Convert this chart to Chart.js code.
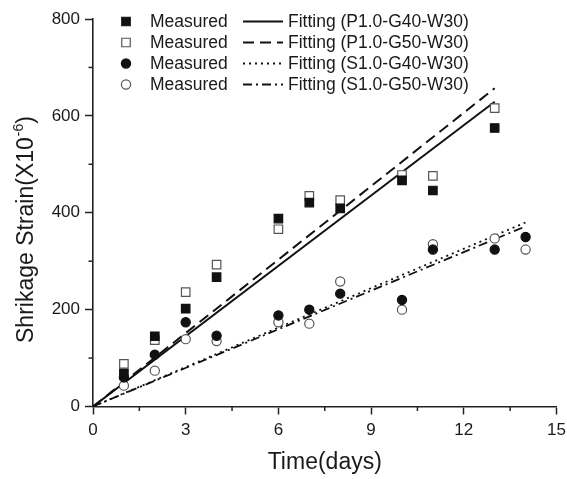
<!DOCTYPE html>
<html>
<head>
<meta charset="utf-8">
<script src="https://cdn.jsdelivr.net/npm/chart.js@4/dist/chart.umd.min.js"></script>
<style>
  body { margin: 0; background: #fff; }
  canvas { display: block; }
</style>
</head>
<body>
<canvas id="grafico" width="567" height="479"></canvas>
<script>
// datos
const diasP = [1, 2, 3, 4, 6, 7, 8, 10, 11, 13];
const diasS = [1, 2, 3, 4, 6, 7, 8, 10, 11, 13, 14];
const p40 = [68, 145, 202, 267, 388, 421, 409, 467, 446, 575];
const p50 = [88, 137, 236, 293, 366, 435, 426, 478, 476, 616];
const s40 = [60, 107, 174, 146, 188, 200, 233, 220, 324, 324, 350];
const s50 = [43, 74, 139, 135, 174, 171, 258, 200, 335, 347, 324];

const ajusteDiasP = [0, 13];
const ajusteDiasS = [0, 14];
const ajusteP40 = [0, 629];
const ajusteP50 = [0, 657];
const ajusteS40 = [0, 380];
const ajusteS50 = [0, 372];

const etiquetasMedido = ['Measured', 'Measured', 'Measured', 'Measured'];
const etiquetasAjuste = ['Fitting (P1.0-G40-W30)', 'Fitting (P1.0-G50-W30)', 'Fitting (S1.0-G40-W30)', 'Fitting (S1.0-G50-W30)'];

const ticksX = [0, 3, 6, 9, 12, 15];
const ticksY = [0, 200, 400, 600, 800];
const tituloX = 'Time(days)';
const tituloY = 'Shrikage Strain(X10';
const tituloYsup = '-6';

const fuente = '"Liberation Sans", Arial, sans-serif';

function puntos(xs, ys) {
  return xs.map((x, i) => ({ x: x, y: ys[i] }));
}

function medido(label, xs, ys, estilo, radio, relleno, borde) {
  return {
    label: label,
    data: puntos(xs, ys),
    showLine: false,
    pointStyle: estilo,
    pointRadius: radio,
    pointHoverRadius: radio,
    pointBackgroundColor: relleno,
    pointBorderColor: borde,
    pointBorderWidth: 1.2
  };
}

function ajuste(label, xs, ys, dash, ancho) {
  return {
    label: label,
    data: puntos(xs, ys),
    showLine: true,
    borderColor: '#111',
    borderWidth: ancho,
    borderDash: dash,
    pointRadius: 0,
    fill: false
  };
}

const datasets = [
  medido(etiquetasMedido[0], diasP, p40, 'rect', 6, '#111', '#111'),
  medido(etiquetasMedido[1], diasP, p50, 'rect', 6, '#fff', '#555'),
  medido(etiquetasMedido[2], diasS, s40, 'circle', 4.6, '#111', '#111'),
  medido(etiquetasMedido[3], diasS, s50, 'circle', 4.6, '#fff', '#555'),
  ajuste(etiquetasAjuste[0], ajusteDiasP, ajusteP40, [], 2),
  ajuste(etiquetasAjuste[1], ajusteDiasP, ajusteP50, [11, 6], 2),
  ajuste(etiquetasAjuste[2], ajusteDiasS, ajusteS40, [2, 4], 1.8),
  ajuste(etiquetasAjuste[3], ajusteDiasS, ajusteS50, [9, 4, 2, 4], 1.8)
];

// ticks menores, titulos y leyenda
const extras = {
  id: 'extras',
  afterDraw(chart) {
    const ctx = chart.ctx;
    const sx = chart.scales.x;
    const sy = chart.scales.y;
    const area = chart.chartArea;
    ctx.save();
    ctx.strokeStyle = '#222';
    ctx.lineWidth = 1.5;
    for (let i = 0; i < ticksX.length - 1; i++) {
      const px = sx.getPixelForValue((ticksX[i] + ticksX[i + 1]) / 2);
      ctx.beginPath();
      ctx.moveTo(px, area.bottom);
      ctx.lineTo(px, area.bottom + 4.5);
      ctx.stroke();
    }
    for (let i = 0; i < ticksY.length - 1; i++) {
      const py = sy.getPixelForValue((ticksY[i] + ticksY[i + 1]) / 2);
      ctx.beginPath();
      ctx.moveTo(area.left, py);
      ctx.lineTo(area.left - 4.5, py);
      ctx.stroke();
    }

    ctx.fillStyle = '#1a1a1a';
    ctx.font = '23px ' + fuente;
    ctx.textAlign = 'center';
    ctx.textBaseline = 'alphabetic';
    ctx.fillText(tituloX, (area.left + area.right) / 2, 469);

    ctx.save();
    ctx.translate(33, 343);
    ctx.rotate(-Math.PI / 2);
    ctx.textAlign = 'left';
    ctx.font = '23px ' + fuente;
    ctx.fillText(tituloY, 0, 0);
    let w = ctx.measureText(tituloY).width;
    ctx.font = '14px ' + fuente;
    ctx.fillText(tituloYsup, w + 1, -10);
    w += ctx.measureText(tituloYsup).width + 1;
    ctx.font = '23px ' + fuente;
    ctx.fillText(')', w, 0);
    ctx.restore();

    // leyenda
    const filas = [21.5, 42.5, 63.5, 84.5];
    ctx.font = '17.5px ' + fuente;
    ctx.textAlign = 'left';
    ctx.textBaseline = 'middle';
    for (let i = 0; i < 4; i++) {
      const m = chart.data.datasets[i];
      const f = chart.data.datasets[i + 4];
      const y = filas[i];
      ctx.fillStyle = m.pointBackgroundColor;
      ctx.strokeStyle = m.pointBorderColor;
      ctx.lineWidth = m.pointBorderWidth;
      ctx.setLineDash([]);
      Chart.helpers.drawPoint(ctx, { pointStyle: m.pointStyle, radius: m.pointRadius, rotation: 0, borderWidth: m.pointBorderWidth }, 126, y);
      ctx.fillStyle = '#1a1a1a';
      ctx.fillText(m.label, 150, y + 1);
      ctx.strokeStyle = '#111';
      ctx.lineWidth = f.borderWidth;
      ctx.setLineDash(f.borderDash);
      ctx.beginPath();
      ctx.moveTo(243, y);
      ctx.lineTo(283, y);
      ctx.stroke();
      ctx.setLineDash([]);
      ctx.fillText(f.label, 288, y + 1);
    }
    ctx.restore();
  }
};

new Chart(document.getElementById('grafico'), {
  type: 'scatter',
  data: { datasets: datasets },
  options: {
    responsive: false,
    animation: false,
    layout: { padding: { top: 19, right: 10.5, left: 0, bottom: 0 } },
    plugins: {
      legend: { display: false },
      tooltip: { enabled: false }
    },
    scales: {
      x: {
        type: 'linear',
        min: ticksX[0],
        max: ticksX[ticksX.length - 1],
        afterBuildTicks: (s) => { s.ticks = ticksX.map(v => ({ value: v })); },
        afterFit: (s) => { s.height = 72.5; s.paddingLeft = 0; s.paddingRight = 0; },
        border: { display: true, color: '#222', width: 1.6 },
        grid: { drawOnChartArea: false, drawTicks: true, tickLength: 8, tickColor: '#222', tickWidth: 1.5 },
        ticks: { color: '#1a1a1a', font: { family: fuente, size: 17 }, padding: 6, maxRotation: 0 }
      },
      y: {
        type: 'linear',
        min: ticksY[0],
        max: ticksY[ticksY.length - 1],
        afterBuildTicks: (s) => { s.ticks = ticksY.map(v => ({ value: v })); },
        afterFit: (s) => { s.width = 93; s.paddingTop = 0; s.paddingBottom = 0; },
        border: { display: true, color: '#222', width: 1.6 },
        grid: { drawOnChartArea: false, drawTicks: true, tickLength: 8, tickColor: '#222', tickWidth: 1.5 },
        ticks: { color: '#1a1a1a', font: { family: fuente, size: 17 }, padding: 5 }
      }
    }
  },
  plugins: [extras]
});
</script>
</body>
</html>
